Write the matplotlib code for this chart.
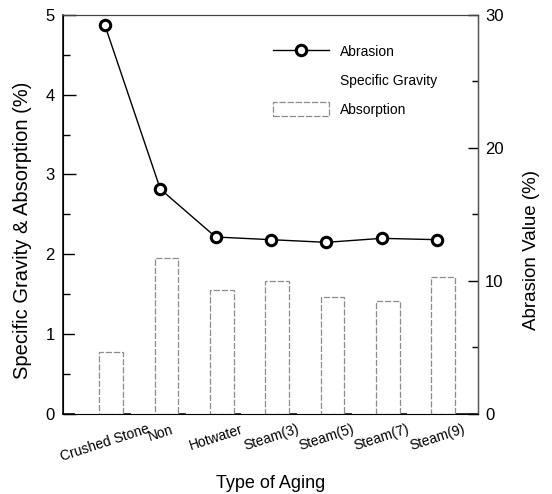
import matplotlib
matplotlib.use('Agg')
import matplotlib.pyplot as plt
import matplotlib.patches as mpatches
from matplotlib.lines import Line2D
from matplotlib.ticker import MultipleLocator
import numpy as np

plt.rcParams['font.family'] = ['Liberation Sans Narrow', 'Liberation Sans', 'DejaVu Sans']

# datos
categorias = ['Crushed Stone', 'Non', 'Hotwater', 'Steam(3)', 'Steam(5)', 'Steam(7)', 'Steam(9)']
abrasion = [29.2, 16.9, 13.3, 13.1, 12.9, 13.2, 13.1]
absorcion = [0.78, 1.95, 1.55, 1.66, 1.46, 1.42, 1.72]
gravedad = [2.62, 2.45, 2.48, 2.47, 2.49, 2.46, 2.45]

x = np.arange(len(categorias))

fig = plt.figure(figsize=(5.52, 4.94), dpi=100)
ax = fig.add_axes([0.114, 0.162, 0.752, 0.808])
ax2 = ax.twinx()

# barras (la gravedad especifica sale invisible en el original)
ax.bar(x - 0.32, gravedad, width=0.43, facecolor='white', edgecolor='white',
       linewidth=0.8, zorder=3)
ax.bar(x + 0.11, absorcion, width=0.43, facecolor='white', edgecolor='#8c8c8c',
       linewidth=0.9, linestyle=(0, (5, 1.5)), zorder=3)

ax.set_xlim(-0.76, 6.74)
ax.set_ylim(0, 5)
ax2.set_ylim(0, 30)

ax2.plot(x, abrasion, color='black', linewidth=1.0, marker='o', markersize=7.5,
         markerfacecolor='white', markeredgecolor='black', markeredgewidth=2.2,
         zorder=5)

ax.set_xticks(x)
ax.set_xticklabels(categorias, rotation=18, ha='center', fontsize=10)
ax.tick_params(axis='x', length=0, pad=6)

ax.yaxis.set_major_locator(MultipleLocator(1))
ax.yaxis.set_minor_locator(MultipleLocator(0.5))
ax.tick_params(axis='y', which='major', direction='in', length=9, width=1, labelsize=12, pad=6)
ax.tick_params(axis='y', which='minor', direction='in', length=5, width=1)

ax2.yaxis.set_major_locator(MultipleLocator(10))
ax2.yaxis.set_minor_locator(MultipleLocator(5))
ax2.tick_params(axis='y', which='major', direction='in', length=7, width=1, labelsize=12, pad=5)
ax2.tick_params(axis='y', which='minor', direction='in', length=4, width=1)

for s in ['left', 'bottom']:
    ax.spines[s].set_color('black')
    ax.spines[s].set_linewidth(1.1)
ax.spines['top'].set_color('#444444')
ax2.spines['top'].set_color('#444444')
ax2.spines['right'].set_color('#555555')
ax2.spines['right'].set_linewidth(1.0)

ax.set_xlabel('Type of Aging', fontsize=13, labelpad=8)
ax.set_ylabel('Specific Gravity & Absorption (%)', fontsize=14.5)
ax.yaxis.set_label_coords(-0.075, 0.459)
ax2.set_ylabel('Abrasion Value (%)', fontsize=13.5)
ax2.yaxis.set_label_coords(1.108, 0.41)

h1 = Line2D([], [], color='black', linewidth=1.0, marker='o', markersize=7.5,
            markerfacecolor='white', markeredgecolor='black', markeredgewidth=2.2)
h2 = mpatches.Patch(facecolor='white', edgecolor='white')
h3 = mpatches.Patch(facecolor='white', edgecolor='#8c8c8c', linestyle=(0, (5, 1.5)),
                    linewidth=0.9)
ax2.legend([h1, h2, h3], ['Abrasion', 'Specific Gravity', 'Absorption'],
           loc='upper left', bbox_to_anchor=(0.476, 0.957), frameon=False, fontsize=10,
           handlelength=4.0, handleheight=1.2, labelspacing=1.0, handletextpad=0.8)

plt.savefig('out.png', dpi=100)
plt.close(fig)
